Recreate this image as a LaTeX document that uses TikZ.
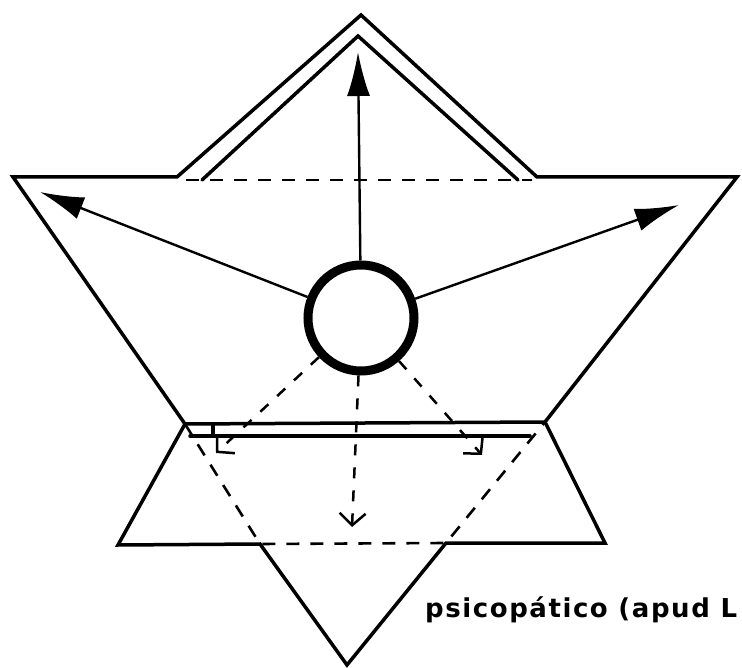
\documentclass[tikz,border=0pt]{standalone}
\usepackage{fontspec}
\newfontfamily\capfont[LetterSpace=6]{DejaVu Sans Bold}
\usetikzlibrary{arrows.meta}

\begin{document}
\begin{tikzpicture}[x=1pt, y=-1pt,
    edge/.style={line width=3.5pt, line join=miter, line cap=round},
    hidden/.style={line width=2.6pt, dash pattern=on 13pt off 11pt},
    ring/.style={circle, draw, minimum size=106pt, inner sep=0pt, line width=9pt},
    ray/.style={line width=2.4pt, -{Latex[length=44pt, width=23pt]}},
    hray/.style={line width=2.5pt, dash pattern=on 11pt off 12pt, -{Straight Barb[length=12pt, width=26pt]}},
    caption/.style={anchor=base west, inner sep=0pt, font=\capfont\fontsize{26}{30}\selectfont}
]
  \useasboundingbox (0,0) rectangle (742,668);

  % upper triangle with its peak
  \coordinate (tl) at (13,177);
  \coordinate (tr) at (737,177);
  \coordinate (pl) at (177,177);
  \coordinate (pt) at (361,15);
  \coordinate (pr) at (537,177);
  \coordinate (ql) at (202,180);
  \coordinate (qt) at (358,36);
  \coordinate (qr) at (518,180);
  \coordinate (a) at (185,424);
  \coordinate (b) at (545,422);
  \coordinate (c) at (190,436);
  \coordinate (d) at (530,436);
  % lower part
  \coordinate (e) at (118,545);
  \coordinate (f) at (605,543);
  \coordinate (g) at (260,544);
  \coordinate (h) at (446,543);
  \coordinate (v) at (347,665);

  \draw[edge] (tl) -- (pl) -- (pt) -- (pr) -- (tr) -- (b) -- (a) -- cycle;
  \draw[edge] (ql) -- (qt) -- (qr);
  \draw[hidden] (186,180) -- (532,180);
  \draw[edge] (c) -- (d);
  \draw[edge] (213,424) -- (213,436);
  \draw[edge] (a) -- (e) -- (g) -- (v) -- (h) -- (f) -- (b);
  \draw[hidden] (a) -- (g) -- (h) -- (b);

  % circle and arrows
  \node[ring] (eye) at (361,318) {};
  \coordinate (up) at (358,52);
  \coordinate (lt) at (40,192);
  \coordinate (rt) at (679,205);
  \coordinate (dl) at (216,453);
  \coordinate (dm) at (352,527);
  \coordinate (dr) at (482,455);
  \draw[ray] (eye) -- (up);
  \draw[ray] (eye) -- (lt);
  \draw[ray] (eye) -- (rt);
  \draw[hray] (eye) -- (dl);
  \draw[hray] (eye) -- (dm);
  \draw[hray] (eye) -- (dr);

  \node[caption] (cap) at (425,617) {psicopático (apud L};
\end{tikzpicture}
\end{document}
